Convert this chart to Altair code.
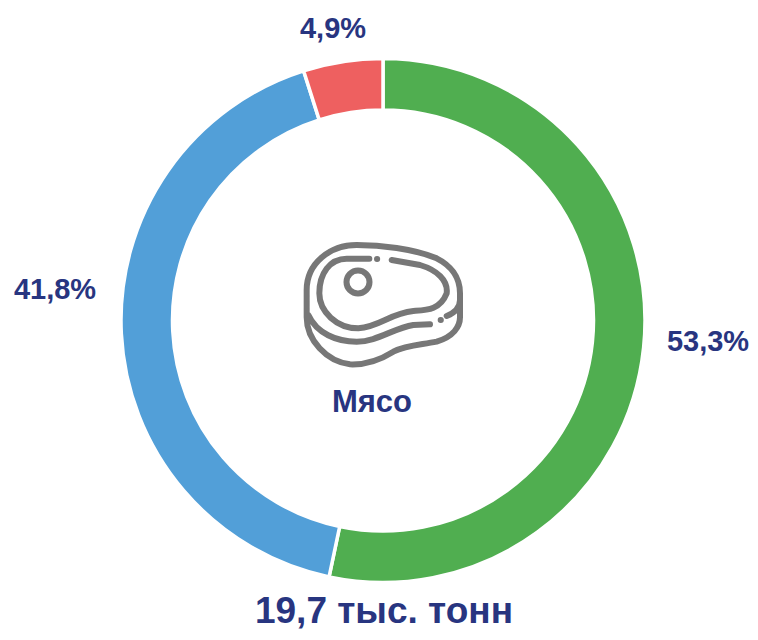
import altair as alt
import pandas as pd
import re

categories = ["A", "B", "C"]
values = [53.3, 41.8, 4.9]
labels = ["53,3%", "41,8%", "4,9%"]
colors = ["#50AE50", "#529FD8", "#EE6060"]
center_label = "Мясо"
total_label = "19,7 тыс. тонн"
NAVY = "#283580"
FONT = "Liberation Sans"
OX, OY = 8, 8
CX, CY = 383 - OX, 320.5 - OY

# icon outline, drawn in reference-crop units, normalised below
ICON = (
    "M230 45 C300 45 400 55 470 85 C510 105 540 140 540 190 L540 262 "
    "C540 290 520 320 470 335 C420 345 380 345 340 365 C300 390 260 405 210 403 "
    "C140 395 80 330 80 262 L80 180 C80 100 150 45 230 45 Z "
    "M85 255 C110 310 170 335 230 335 C290 335 340 295 400 285 L450 283 "
    "M268 86 L200 86 C150 86 118 130 118 190 C118 245 170 295 235 295 "
    "C300 290 330 250 400 243 C440 240 480 240 500 190 C505 150 470 120 420 105 L335 90 "
    "M291 87 L291.5 87 M482 270 L482.5 270 "
    "M500 258 C520 250 540 235 540 210"
)


def norm(path, cx=312, cy=225, unit=300):
    toks = re.findall(r"[A-Za-z]|-?[\d.]+", path)
    out, is_x = [], True
    for t in toks:
        if t.isalpha():
            out.append(t)
            is_x = True
        else:
            v = float(t)
            out.append(f"{(v - cx) / unit:.4f}" if is_x else f"{(v - cy) / unit:.4f}")
            is_x = not is_x
    return " ".join(out)


df = pd.DataFrame({"cat": categories, "value": values, "i": range(len(values))})

arc = alt.Chart(df).mark_arc(
    radius=262, radius2=210.5, stroke="white", strokeWidth=3.5
).encode(
    theta=alt.Theta("value:Q", stack=True),
    order=alt.Order("i:Q"),
    color=alt.Color("cat:N", scale=alt.Scale(domain=categories, range=colors), legend=None),
    x=alt.value(CX),
    y=alt.value(CY),
)


def text(s, x, y, size):
    return alt.Chart(pd.DataFrame({"t": [s]})).mark_text(
        font=FONT, fontWeight="bold", fontSize=size, color=NAVY, align="center", baseline="middle"
    ).encode(text="t:N", x=alt.value(x - OX), y=alt.value(y - OY))


def icon_point(shape, size, x, y, sw):
    return alt.Chart(pd.DataFrame({"k": [1]})).mark_point(
        shape=shape, size=size, filled=False, stroke="#777777", strokeWidth=sw, opacity=1,
        strokeCap="round", strokeJoin="round",
    ).encode(x=alt.value(x - OX), y=alt.value(y - OY))


icon = icon_point(norm(ICON), 40000, 384, 305, 6)
eye = icon_point("circle", 530, 358, 282, 6)

chart = alt.layer(
    arc,
    icon,
    eye,
    text(labels[0], 708, 342, 29),
    text(labels[1], 55, 290, 29),
    text(labels[2], 333, 29, 29),
    text(center_label, 372, 403, 31),
    text(total_label, 384, 612, 37),
).properties(width=742, height=624, padding=0, autosize="none").configure_view(stroke=None)

chart.save("out.html", embed_options={"renderer": "svg", "actions": False})
